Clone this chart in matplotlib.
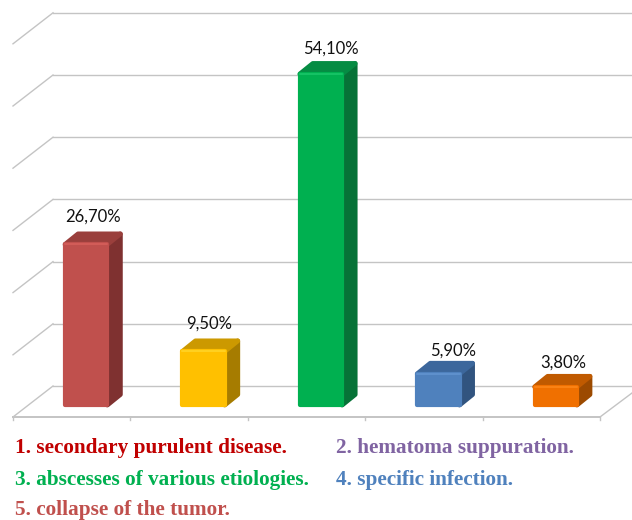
import matplotlib
matplotlib.use("Agg")
import matplotlib.pyplot as plt
from matplotlib.patches import Polygon
from matplotlib.transforms import Affine2D

# chart values
values = [26.7, 9.5, 54.1, 5.9, 3.8]
value_labels = ["26,70%", "9,50%", "54,10%", "5,90%", "3,80%"]
grid_levels = [0, 10, 20, 30, 40, 50, 60]
front_colors = ["#C0504D", "#FFC000", "#00B050", "#4F81BD", "#F07000"]
shine_colors = ["#D25C58", "#FFD020", "#14C264", "#5E90CC", "#FA8214"]
top_colors = ["#9A3F3C", "#CC9900", "#058C43", "#3C679C", "#C05A00"]
side_colors = ["#7F3130", "#A67C00", "#067237", "#31547F", "#9C4A00"]
legend_texts = ["1. secondary purulent disease.", "2. hematoma suppuration.",
                "3. abscesses of various etiologies.", "4. specific infection.",
                "5. collapse of the tumor."]
legend_colors = ["#C00000", "#8064A2", "#00B050", "#4F81BD", "#C0504D"]
legend_x = [15, 336, 15, 336, 15]
legend_y = [448, 448, 480, 480, 510]

W, H = 632, 520
px_per_cat = 117.4
px_per_pct = 6.22
left = 13
base = 407

fig = plt.figure(figsize=(W / 100, H / 100), dpi=100)
ax = fig.add_axes([0, 0, 1, 1])
ax.set_xlim(-left / px_per_cat, (W - left) / px_per_cat)
ax.set_ylim(-(H - base) / px_per_pct, base / px_per_pct)
ax.axis("off")


def shifted(dx, dy):
    # data coords moved by some pixels, used for the fake depth
    return ax.transData + Affine2D().translate(dx, dy)


n = len(values)
back = shifted(40, 21)
front = shifted(0, -10)
bar_tr = shifted(14.5, -3.5)
GRID = "#C4C4C4"

# back wall and side wall lines
for lev in grid_levels:
    ax.plot([0, (W - left) / px_per_cat], [lev, lev], color=GRID, lw=1.0, transform=back, zorder=1)
    x0, y0 = back.transform((0, lev))
    x1, y1 = front.transform((0, lev))
    ax.plot([x0, x1], [y0, y1], color=GRID, lw=1.0, transform=None, zorder=1)

# floor front edge, ticks, right edge
ax.plot([0, n], [0, 0], color=GRID, lw=1.4, transform=front, zorder=1)
for i in range(n + 1):
    x0, y0 = front.transform((i, 0))
    ax.plot([x0, x0], [y0, y0 - 3], color=GRID, lw=1.0, transform=None, zorder=1)
x0, y0 = front.transform((n, 0))
ax.plot([x0, x0 + 32], [y0, y0 + 24], color=GRID, lw=1.0, transform=None, zorder=1)

# bars, thick round edge gives the soft corners
width = 0.36
ddx = 13 / px_per_cat
ddy = 10.5 / px_per_pct
lift = 5.5 / px_per_pct
xs = [i + 0.5 for i in range(n)]
for x, v, fc, hc, tc, sc in zip(xs, values, front_colors, shine_colors, top_colors, side_colors):
    l, r = x - width / 2, x + width / 2
    side = Polygon([(r, lift), (r + ddx, lift + ddy), (r + ddx, v + ddy), (r, v)], closed=True,
                   fc=sc, ec=sc, lw=3.5, joinstyle="round", transform=bar_tr, zorder=3)
    top = Polygon([(l, v), (l + ddx, v + ddy), (r + ddx, v + ddy), (r, v)], closed=True,
                  fc=tc, ec=tc, lw=3.5, joinstyle="round", transform=bar_tr, zorder=3)
    ax.add_patch(side)
    ax.add_patch(top)
    ax.bar(x, v - lift, width, bottom=lift, color=fc, ec=fc, lw=3, joinstyle="round",
           transform=bar_tr, zorder=4)
    # light strip along the top of the front face
    ax.plot([l, r], [v, v], color=hc, lw=1.5, solid_capstyle="round", transform=bar_tr, zorder=5)

# value labels, they do not sit at the same spot over each bar
label_dx = [7, 6, 10, 15, 7]
label_dy = [27.5, 27.5, 25.5, 23.5, 24.5]
for x, v, lab, dx, dy in zip(xs, values, value_labels, label_dx, label_dy):
    ax.annotate(lab, (x, v), xycoords=bar_tr, xytext=(dx, dy), textcoords="offset pixels",
                ha="center", va="center", fontsize=12, family="Lato", color="#111111", zorder=6)

# legend text under the chart
for t, c, lx, ly in zip(legend_texts, legend_colors, legend_x, legend_y):
    fig.text(lx / W, 1 - ly / H, t, color=c, fontsize=15.35, family="Liberation Serif",
             fontweight="bold", ha="left", va="center")

fig.savefig("out.png", dpi=100, facecolor="white")
